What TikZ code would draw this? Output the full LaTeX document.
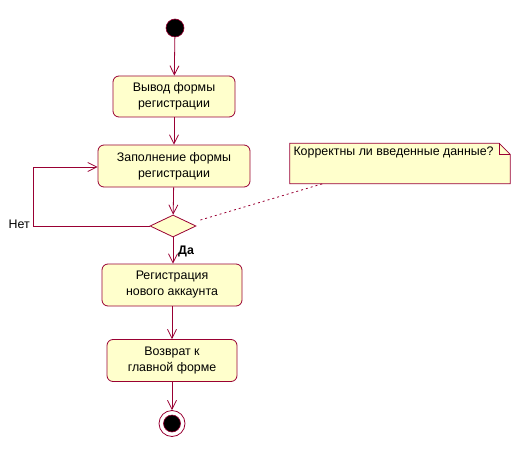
\documentclass[tikz,border=0pt]{standalone}
\usepackage{fontspec}
\setmainfont{Liberation Sans}
\usetikzlibrary{arrows.meta,shapes.geometric,calc}
\definecolor{umlline}{HTML}{990033}
\definecolor{umlfill}{HTML}{FFFFCC}
\begin{document}
\begin{tikzpicture}[x=1pt,y=-1pt,
  every node/.style={font=\fontsize{12.4}{16}\selectfont, text=black},
  activity/.style={draw=umlline, fill=umlfill, line width=0.8pt, rounded corners=6pt,
    align=center, inner sep=0pt},
  flow/.style={draw=umlline, line width=0.8pt, -{Straight Barb[length=9pt,width=9pt,line width=0.8pt]}},
  decision/.style={diamond, draw=umlline, fill=umlfill, line width=0.8pt, aspect=2.1,
    minimum width=46pt, minimum height=22pt, inner sep=0pt},
  startdot/.style={circle, fill=black, draw=umlline, line width=0.6pt, minimum size=18pt, inner sep=0pt},
  enddot/.style={circle, fill=black, draw=umlline, line width=0.6pt, minimum size=17pt, inner sep=0pt},
  endring/.style={circle, draw=umlline, fill=white, line width=0.8pt, minimum size=26pt, inner sep=0pt}
]
\useasboundingbox (0,0) rectangle (526,454);

% start and end points
\node[startdot] (start) at (175,28) {};
\node[endring] (endring) at (172,423.5) {};
\node[enddot] (end) at (172,423.5) {};

% activities
\node[activity, minimum width=122pt, minimum height=41pt] (show) at (174,96.5) {Вывод формы\\регистрации};
\node[activity, minimum width=152pt, minimum height=42pt] (fill) at (174,166) {Заполнение формы\\регистрации};
\node[decision] (check) at (173,226) {};
\node[activity, minimum width=140pt, minimum height=42pt] (register) at (172,285) {Регистрация\\нового аккаунта};
\node[activity, minimum width=130pt, minimum height=42pt] (back) at (172,360.5) {Возврат к\\главной форме};

% note with folded corner
\node[minimum width=220pt, minimum height=40pt, inner sep=0pt] (note) at (400,163.5) {};
\draw[draw=umlline, fill=umlfill, line width=0.8pt]
  (note.north west) -- ($(note.north east)+(-11,0)$) -- ($(note.north east)+(0,11)$)
  -- (note.south east) -- (note.south west) -- cycle;
\draw[draw=umlline, line width=0.8pt]
  ($(note.north east)+(-11,0)$) -- ($(note.north east)+(-11,11)$) -- ($(note.north east)+(0,11)$);
\node[anchor=north west, inner sep=0pt] (notetext) at ($(note.north west)+(3.5,3)$) {Корректны ли введенные данные?};

% flows
\draw[flow] (start) -- (show);
\draw[flow] (show) -- (fill);
\draw[flow] (fill) -- (check);
\draw[flow] (check) -- (register.north -| check);
\draw[flow] (register) -- (back);
\draw[flow] (back) -- (endring);
\coordinate (loopbottom) at (33,226);
\coordinate (looptop) at (33,167);
\draw[flow] (check.west) -- (loopbottom) -- (looptop) -- (fill.west |- looptop);

% guard labels
\node[anchor=east, inner sep=0pt] (no) at (30,224) {Нет};
\node[anchor=west, inner sep=0pt, font=\fontsize{12.4}{14}\selectfont\bfseries] (yes) at (178,251) {Да};

% note anchor line
\draw[umlline, line width=0.8pt, dash pattern=on 2pt off 3pt] ($(check.east)+(4,-6)$) -- ($(note.south west)+(33,0)$);
\end{tikzpicture}
\end{document}
